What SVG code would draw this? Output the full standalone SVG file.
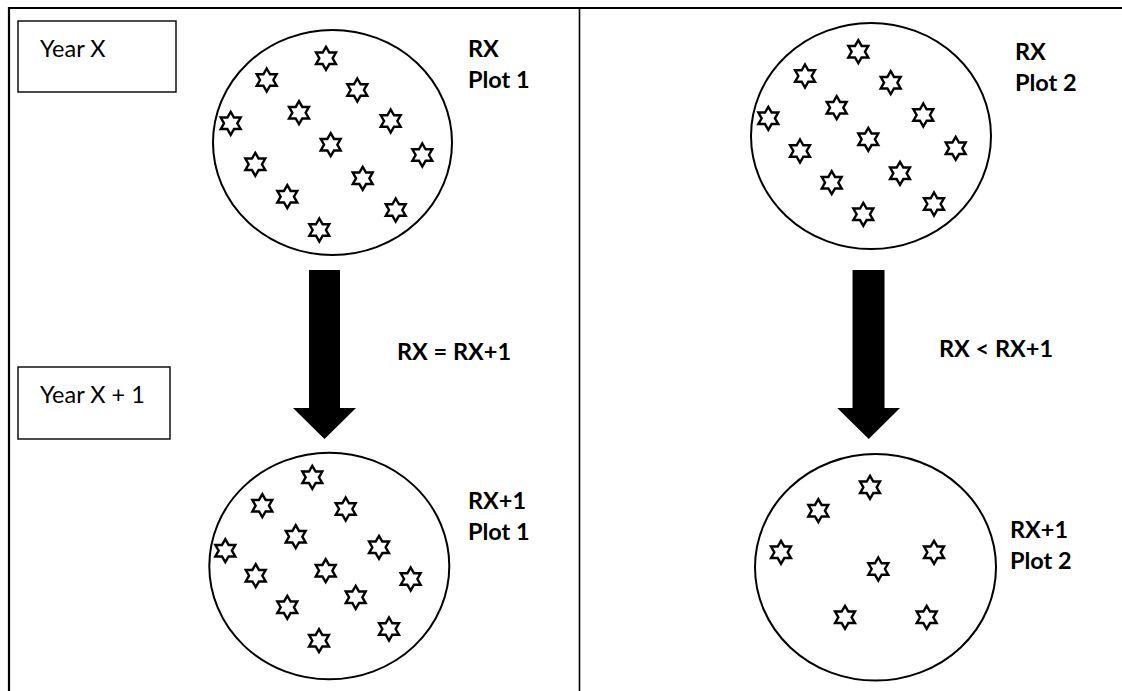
<svg xmlns="http://www.w3.org/2000/svg" xmlns:xlink="http://www.w3.org/1999/xlink" width="1122" height="691" viewBox="0 0 1122 691">
<style>
.frame{stroke:#000;stroke-width:2.2;fill:none}
.mid{stroke:#000;stroke-width:1.6;fill:none}
.box{fill:#fff;stroke:#000;stroke-width:1.4}
.plot{fill:#fff;stroke:#000;stroke-width:2}
.star{fill:#fff;stroke:#000;stroke-width:2.4;stroke-linejoin:miter}
.t{font-family:Lato,"Liberation Sans",sans-serif;font-size:23.5px;fill:#000}
.b{font-family:Lato,"Liberation Sans",sans-serif;font-size:23.5px;font-weight:bold;fill:#000}
.arrow{fill:#000;stroke:none}
</style>
<defs>
<path id="star" d="M0,-11.5 L3.32,-5.75 L9.96,-5.75 L6.64,0 L9.96,5.75 L3.32,5.75 L0,11.5 L-3.32,5.75 L-9.96,5.75 L-6.64,0 L-9.96,-5.75 L-3.32,-5.75 Z"/>
</defs>
<rect width="1122" height="691" fill="#fff"/>
<g id="frame">
<path class="frame" d="M9,691 V8 H1122"/>
<path class="mid" d="M579.5,8 V691"/>
</g>
<g id="year-x">
<rect class="box" x="18" y="21" width="158" height="71"/>
<text class="t" x="40" y="57">Year X</text>
</g>
<g id="year-x1">
<rect class="box" x="18" y="367" width="152" height="72"/>
<text class="t" x="40" y="403">Year X + 1</text>
</g>
<g id="plot1-rx">
<ellipse class="plot" cx="332.5" cy="142.5" rx="119.5" ry="112.5"/>
<g class="star">
<use href="#star" x="326" y="58.3"/>
<use href="#star" x="266.7" y="80"/>
<use href="#star" x="357.3" y="90"/>
<use href="#star" x="299" y="112.7"/>
<use href="#star" x="230.7" y="123.3"/>
<use href="#star" x="390.7" y="121"/>
<use href="#star" x="330.7" y="144.7"/>
<use href="#star" x="422.3" y="155"/>
<use href="#star" x="255.3" y="164.3"/>
<use href="#star" x="362.7" y="178.3"/>
<use href="#star" x="287.3" y="196.7"/>
<use href="#star" x="395.7" y="210"/>
<use href="#star" x="319.3" y="230"/>
</g>
<text class="b" x="468" y="57">RX</text>
<text class="b" x="468" y="88">Plot 1</text>
</g>
<g id="plot2-rx">
<ellipse class="plot" cx="871" cy="136" rx="120" ry="113"/>
<g class="star">
<use href="#star" x="858.3" y="51.7"/>
<use href="#star" x="805" y="76"/>
<use href="#star" x="890.7" y="82.7"/>
<use href="#star" x="836.7" y="107.7"/>
<use href="#star" x="768.3" y="118.3"/>
<use href="#star" x="923.3" y="115"/>
<use href="#star" x="868.3" y="139.3"/>
<use href="#star" x="955.7" y="148.3"/>
<use href="#star" x="800" y="151"/>
<use href="#star" x="900" y="173.3"/>
<use href="#star" x="831.7" y="182.7"/>
<use href="#star" x="934" y="204"/>
<use href="#star" x="863.3" y="214.3"/>
</g>
<text class="b" x="1015" y="60">RX</text>
<text class="b" x="1015" y="91">Plot 2</text>
</g>
<g id="plot1-rx1">
<ellipse class="plot" cx="329.3" cy="566" rx="120" ry="113.3"/>
<g class="star">
<use href="#star" x="312.3" y="477.3"/>
<use href="#star" x="262.3" y="505.7"/>
<use href="#star" x="345.7" y="509"/>
<use href="#star" x="295.7" y="536.7"/>
<use href="#star" x="225.3" y="550.7"/>
<use href="#star" x="379" y="547.3"/>
<use href="#star" x="325.7" y="570.7"/>
<use href="#star" x="410.7" y="579"/>
<use href="#star" x="255.7" y="575.7"/>
<use href="#star" x="355.7" y="597.3"/>
<use href="#star" x="287.3" y="607.3"/>
<use href="#star" x="389" y="629"/>
<use href="#star" x="319" y="640.7"/>
</g>
<text class="b" x="468" y="509">RX+1</text>
<text class="b" x="468" y="540">Plot 1</text>
</g>
<g id="plot2-rx1">
<ellipse class="plot" cx="875.5" cy="567.3" rx="120.5" ry="113.3"/>
<g class="star">
<use href="#star" x="870" y="487.3"/>
<use href="#star" x="818.3" y="510.7"/>
<use href="#star" x="781" y="552.3"/>
<use href="#star" x="934" y="552.3"/>
<use href="#star" x="878.3" y="569"/>
<use href="#star" x="845" y="617.3"/>
<use href="#star" x="926.7" y="617.3"/>
</g>
<text class="b" x="1010" y="538">RX+1</text>
<text class="b" x="1010" y="569">Plot 2</text>
</g>
<g id="connectors">
<path class="arrow" d="M309,270 H340 V408 H356 L324.5,439 L293,408 H309 Z"/>
<text class="b" x="397" y="360">RX = RX+1</text>
<path class="arrow" d="M852.5,270 H884.5 V408 H900 L868.7,439 L837.3,408 H852.5 Z"/>
<text class="b" x="939" y="357">RX &lt; RX+1</text>
</g>
</svg>
